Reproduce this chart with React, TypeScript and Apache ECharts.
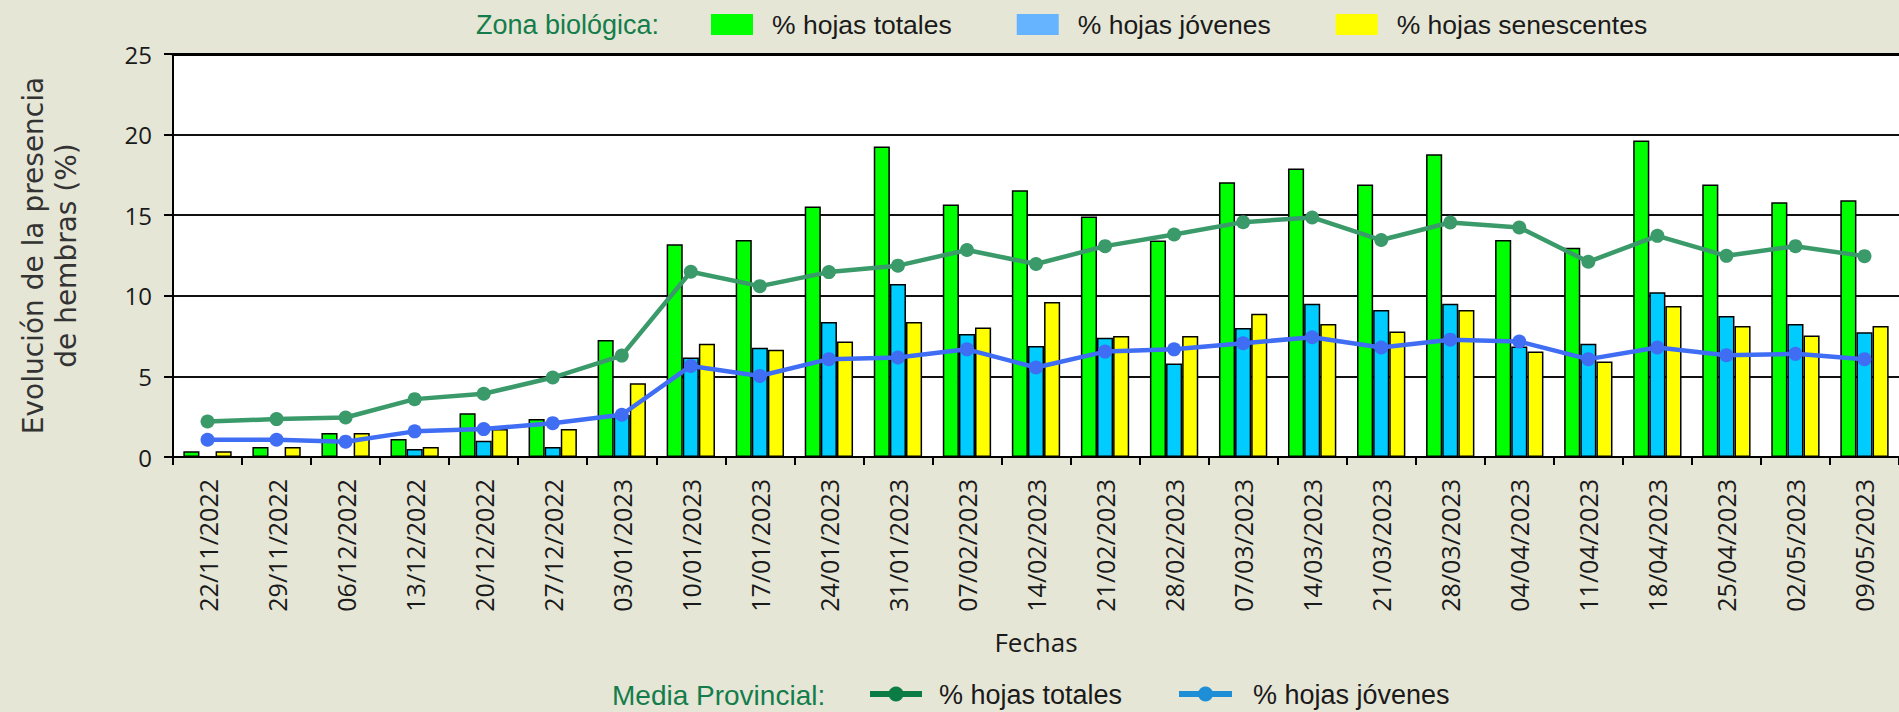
import React, { useEffect, useRef } from "react";
import * as echarts from "echarts";

const fechas = [
  "22/11/2022", "29/11/2022", "06/12/2022", "13/12/2022", "20/12/2022",
  "27/12/2022", "03/01/2023", "10/01/2023", "17/01/2023", "24/01/2023",
  "31/01/2023", "07/02/2023", "14/02/2023", "21/02/2023", "28/02/2023",
  "07/03/2023", "14/03/2023", "21/03/2023", "28/03/2023", "04/04/2023",
  "11/04/2023", "18/04/2023", "25/04/2023", "02/05/2023", "09/05/2023",
];

const zonaTotales = [0.35, 0.62, 1.49, 1.11, 2.72, 2.35, 7.26, 13.2, 13.46, 15.54, 19.26, 15.66, 16.55, 14.92, 13.43, 17.05, 17.9, 16.9, 18.78, 13.46, 12.98, 19.63, 16.9, 15.81, 15.93];
const zonaJovenes = [0, 0, 0, 0.49, 1.01, 0.62, 2.6, 6.17, 6.77, 8.38, 10.73, 7.63, 6.89, 7.39, 5.8, 8.01, 9.51, 9.12, 9.51, 6.85, 7.02, 10.22, 8.75, 8.25, 7.74];
const zonaSenescentes = [0.35, 0.62, 1.49, 0.62, 1.73, 1.73, 4.58, 7.02, 6.66, 7.16, 8.38, 8.03, 9.62, 7.51, 7.51, 8.89, 8.25, 7.78, 9.12, 6.54, 5.92, 9.37, 8.13, 7.53, 8.13];
const mediaTotales = [2.2, 2.35, 2.45, 3.59, 3.92, 4.93, 6.29, 11.49, 10.6, 11.47, 11.87, 12.84, 11.97, 13.08, 13.8, 14.57, 14.86, 13.46, 14.55, 14.24, 12.11, 13.72, 12.48, 13.08, 12.46];
const mediaJovenes = [1.07, 1.07, 0.95, 1.59, 1.73, 2.1, 2.62, 5.65, 5.03, 6.07, 6.17, 6.68, 5.55, 6.54, 6.68, 7.06, 7.43, 6.79, 7.28, 7.16, 6.07, 6.79, 6.31, 6.4, 6.07];

const yTicks = { min: 0, max: 25, interval: 5 };

const BG = "#E6E6D6";
const HEAD = "#147D4B";
const TXT = "#1a1a1a";
const SANS = "'Liberation Sans', Arial, sans-serif";
const OPEN = "'Open Sans', 'Noto Sans', sans-serif";

const textStyle = (text: string, fill: string, fontSize: number) => ({
  text,
  fill,
  fontFamily: SANS,
  fontSize,
  lineHeight: fontSize,
  align: "left",
  verticalAlign: "middle",
  textAlign: "left",
  textVerticalAlign: "middle",
});

export default function App() {
  const ref = useRef<HTMLDivElement>(null);
  useEffect(() => {
    document.body.style.margin = "0";
    document.body.style.overflow = "hidden";
    const chart = echarts.init(ref.current!, null, { renderer: "svg" });
    const barBase = {
      type: "bar",
      barGap: "0%",
      barCategoryGap: "30%",
      itemStyle: { borderColor: "#000", borderWidth: 1.5 },
    };
    const LY = 695;
    chart.setOption({
      animation: false,
      backgroundColor: BG,
      grid: {
        left: 173,
        right: -16,
        top: 54,
        bottom: 255,
        show: true,
        backgroundColor: "#FFFFFF",
        borderWidth: 0,
      },
      legend: {
        left: 711,
        top: 9.5,
        padding: 0,
        itemWidth: 42,
        itemHeight: 21,
        itemGap: 65,
        icon: "rect",
        selectedMode: false,
        itemStyle: { borderWidth: 0 },
        textStyle: {
          fontFamily: SANS,
          fontSize: 26.5,
          color: TXT,
          lineHeight: 30,
          padding: [0, 0, 0, 14],
        },
        data: [
          { name: "% hojas totales", itemStyle: { color: "#00FF00", borderWidth: 0 } },
          { name: "% hojas jóvenes", itemStyle: { color: "#66B3FF", borderWidth: 0 } },
          { name: "% hojas senescentes", itemStyle: { color: "#FFFF00", borderWidth: 0 } },
        ],
      },
      graphic: [
        { type: "text", x: 476, y: 24.5, style: textStyle("Zona biológica:", HEAD, 27) },
        { type: "text", x: 612, y: LY, style: textStyle("Media Provincial:", HEAD, 28) },
        {
          type: "line",
          shape: { x1: 870, y1: LY - 1, x2: 922, y2: LY - 1 },
          style: { stroke: "#0C7C45", lineWidth: 6 },
        },
        {
          type: "circle",
          shape: { cx: 896, cy: LY - 1, r: 7.5 },
          style: { fill: "#0C7C45" },
        },
        { type: "text", x: 939, y: LY, style: textStyle("% hojas totales", TXT, 27) },
        {
          type: "line",
          shape: { x1: 1179, y1: LY - 1, x2: 1232, y2: LY - 1 },
          style: { stroke: "#1E8FD6", lineWidth: 6 },
        },
        {
          type: "circle",
          shape: { cx: 1205.5, cy: LY - 1, r: 7.5 },
          style: { fill: "#1E8FD6" },
        },
        { type: "text", x: 1253, y: LY, style: textStyle("% hojas jóvenes", TXT, 27) },
      ],
      xAxis: [
        {
          type: "category",
          data: fechas,
          name: "Fechas",
          nameLocation: "middle",
          nameGap: 172,
          nameTextStyle: { fontFamily: OPEN, fontSize: 26, color: TXT },
          axisLine: { lineStyle: { color: "#000", width: 2 } },
          axisTick: { show: true, length: 8, lineStyle: { color: "#000", width: 2 } },
          axisLabel: {
            rotate: 90,
            interval: 0,
            margin: 22,
            fontFamily: OPEN,
            fontSize: 25,
            color: TXT,
            padding: [0, 0, 10, 0],
          },
        },
        {
          type: "category",
          data: fechas,
          position: "top",
          axisLine: { lineStyle: { color: "#000", width: 3 } },
          axisTick: { show: false },
          axisLabel: { show: false },
        },
      ],
      yAxis: {
        type: "value",
        min: yTicks.min,
        max: yTicks.max,
        interval: yTicks.interval,
        name: "Evolución de la presencia\nde hembras (%)",
        nameLocation: "middle",
        nameRotate: 90,
        nameGap: 90,
        nameTextStyle: {
          fontFamily: "'DejaVu Sans', sans-serif",
          fontSize: 28,
          lineHeight: 33,
          color: "#333333",
          align: "center",
        },
        axisLine: { show: true, lineStyle: { color: "#000", width: 2 } },
        axisTick: { show: true, length: 9, lineStyle: { color: "#000", width: 2 } },
        axisLabel: { margin: 21, fontFamily: OPEN, fontSize: 24, color: TXT },
        splitLine: { lineStyle: { color: "#111", width: 2 } },
      },
      series: [
        { ...barBase, name: "% hojas totales", data: zonaTotales, itemStyle: { ...barBase.itemStyle, color: "#00FF00" } },
        { ...barBase, name: "% hojas jóvenes", data: zonaJovenes, itemStyle: { ...barBase.itemStyle, color: "#00CCFF" } },
        { ...barBase, name: "% hojas senescentes", data: zonaSenescentes, itemStyle: { ...barBase.itemStyle, color: "#FFFF00" } },
        {
          type: "line",
          name: "Media % hojas totales",
          data: mediaTotales,
          symbol: "circle",
          symbolSize: 14,
          lineStyle: { color: "#3A9A6A", width: 4.5 },
          itemStyle: { color: "#3A9A6A" },
          z: 3,
        },
        {
          type: "line",
          name: "Media % hojas jóvenes",
          data: mediaJovenes,
          symbol: "circle",
          symbolSize: 14,
          lineStyle: { color: "#3F6DF3", width: 4.5 },
          itemStyle: { color: "#3F6DF3" },
          z: 4,
        },
      ],
    });
    return () => chart.dispose();
  }, []);
  return <div ref={ref} style={{ width: 1899, height: 712 }} />;
}
